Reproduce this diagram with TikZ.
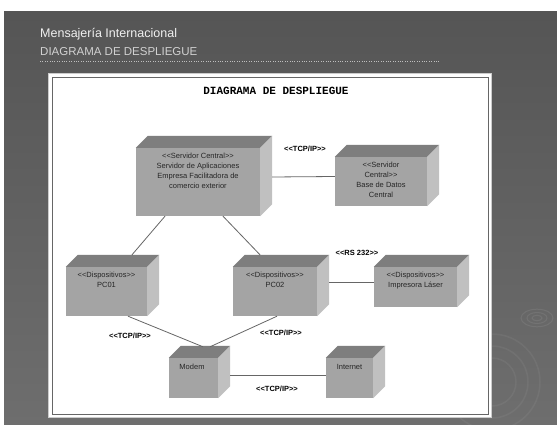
\documentclass[tikz,border=0pt]{standalone}
\usepackage{fontspec}
\newfontfamily\arialf{Liberation Sans}
\newfontfamily\courf{Liberation Mono}
\usepackage{xcolor}
\usetikzlibrary{arrows.meta}

\definecolor{fondoA}{HTML}{555555}
\definecolor{fondoB}{HTML}{6E6E6E}
\definecolor{cara}{HTML}{A4A4A4}
\definecolor{tapa}{HTML}{7E7E7E}
\definecolor{lado}{HTML}{C0C0C0}
\definecolor{linea}{HTML}{666666}

\begin{document}
\begin{tikzpicture}[x=1pt,y=-1pt,
cubo/.style={fill=cara,inner sep=0pt},
txt/.style={font=\arialf\fontsize{7.5}{10}\selectfont,text=black!85,align=center,inner sep=0pt},
etq/.style={font=\arialf\bfseries\fontsize{7.5}{9}\selectfont,inner sep=0pt},
con/.style={draw=linea,line width=0.8pt}]
\useasboundingbox (0,0) rectangle (557,425);
% fondo
\fill[white] (0,0) rectangle (557,425);
\shade[top color=fondoA,bottom color=fondoB] (4,12) rectangle (557,425);
\foreach \r in {5,10,16}
  \draw[white,opacity=.08,line width=1pt] (537,318) ellipse[x radius=\r pt,y radius=0.55*\r pt];
\foreach \r in {24,36,48}
  \draw[white,opacity=.05,line width=1.5pt] (492,382) circle[radius=\r pt];
\node[anchor=base west,text=white!94!black,font=\arialf\fontsize{12.5}{14}\selectfont,inner sep=0pt] (tit) at (40,38) {Mensajería Internacional};
\node[anchor=base west,text=white!82!black,font=\arialf\fontsize{11.5}{13}\selectfont,inner sep=0pt] (sub) at (40,56) {DIAGRAMA DE DESPLIEGUE};
\draw[white!75!black,dotted] (40,61) -- (440,61);
% marco
\fill[white,draw=white!80!black] (48,73) rectangle (491,417);
\draw[black!60,line width=0.8pt] (52,77) rectangle (488,414);
\node[font=\courf\bfseries\fontsize{11}{13}\selectfont,anchor=base] (dtit) at (276,95) {DIAGRAMA DE DESPLIEGUE};
% nodos
\node[cubo,minimum width=124pt,minimum height=68pt,
  label={[txt,anchor=north,yshift=-5pt]north:{<<Servidor Central>>\\Servidor de Aplicaciones\\Empresa Facilitadora de\\comercio exterior}}] (srv) at (198,182) {};
\node[cubo,minimum width=92pt,minimum height=49pt,
  label={[txt,anchor=north,yshift=-5pt]north:{<<Servidor\\Central>>\\Base de Datos\\Central}}] (bd) at (381,181.5) {};
\node[cubo,minimum width=81pt,minimum height=49pt,
  label={[txt,anchor=north,yshift=-5pt]north:{<<Dispositivos>>\\PC01}}] (pc1) at (106.5,291.5) {};
\node[cubo,minimum width=84pt,minimum height=49pt,
  label={[txt,anchor=north,yshift=-5pt]north:{<<Dispositivos>>\\PC02}}] (pc2) at (275,291.5) {};
\node[cubo,minimum width=83pt,minimum height=40pt,
  label={[txt,anchor=north,yshift=-5pt]north:{<<Dispositivos>>\\Impresora Láser}}] (imp) at (415.5,287) {};
\node[cubo,minimum width=49pt,minimum height=40pt,
  label={[txt,anchor=north,yshift=-6pt,xshift=-1.5pt]north:{Modem}}] (mod) at (193.5,378) {};
\node[cubo,minimum width=47pt,minimum height=40pt,
  label={[txt,anchor=north,yshift=-6pt]north:{Internet}}] (inet) at (349.5,378) {};
\foreach \n in {srv,bd,pc1,pc2,imp,mod,inet}{
  \fill[tapa] (\n.north west) -- ++(12pt,12pt) -- ([shift={(12pt,12pt)}]\n.north east) -- (\n.north east) -- cycle;
  \fill[lado] (\n.north east) -- ++(12pt,12pt) -- ([shift={(12pt,12pt)}]\n.south east) -- (\n.south east) -- cycle;
}
% conexiones
\draw[con] ([xshift=12pt,yshift=5pt]srv.east) -- ([yshift=5pt]bd.west);
\draw[con] ([xshift=-33pt]srv.south) -- ([shift={(25.5pt,12pt)}]pc1.north);
\draw[con] ([xshift=25pt]srv.south) -- ([shift={(-15pt,12pt)}]pc2.north);
\draw[con] ([xshift=12pt,yshift=9.5pt]pc2.east) -- ([yshift=5pt]imp.west);
\draw[con] ([xshift=21.5pt]pc1.south) -- ([shift={(9.5pt,11pt)}]mod.north);
\draw[con] ([xshift=2pt]pc2.south) -- ([shift={(16.5pt,11pt)}]mod.north);
\draw[con] ([xshift=12pt,yshift=3pt]mod.east) -- ([yshift=3pt]inet.west);
% etiquetas
\node[etq] (e1) at (305,149) {<<TCP/IP>>};
\node[etq] (e2) at (357,253) {<<RS 232>>};
\node[etq] (e3) at (130,336) {<<TCP/IP>>};
\node[etq] (e4) at (281,333) {<<TCP/IP>>};
\node[etq] (e5) at (277,389) {<<TCP/IP>>};
\end{tikzpicture}
\end{document}
